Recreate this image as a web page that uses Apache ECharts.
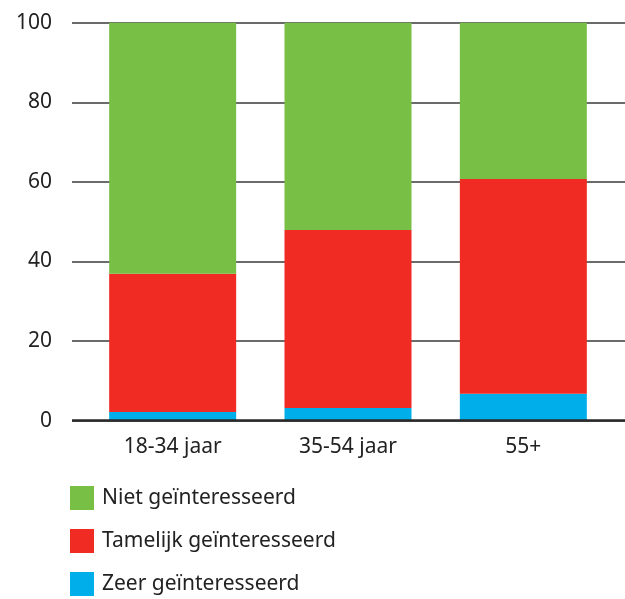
<!DOCTYPE html>
<html>
<head>
<meta charset="utf-8">
<script src="https://cdn.jsdelivr.net/npm/echarts@6/dist/echarts.min.js"></script>
<style>
  html, body { margin: 0; padding: 0; background: #fff; }
  #chart { width: 625px; height: 599px; }
</style>
</head>
<body>
<div id="chart"></div>
<script>
// leeftijdsgroepen
const categories = ['18-34 jaar', '35-54 jaar', '55+']
const yTicks = [0, 20, 40, 60, 80, 100]

// percentages per groep
const zeer = [2.2, 3.2, 6.8]
const tamelijk = [34.7, 44.7, 53.9]
const niet = [63.1, 52.1, 39.3]

const seriesNames = ['Niet geïnteresseerd', 'Tamelijk geïnteresseerd', 'Zeer geïnteresseerd']
const colors = { niet: '#77bf45', tamelijk: '#ef2b24', zeer: '#00aeea' }

const font = 'Noto Sans'
const chart = echarts.init(document.getElementById('chart'))

const option = {
  animation: false,
  textStyle: { fontFamily: font },
  grid: [
    // raster met horizontale lijnen, loopt door tot de rand
    { left: 72, right: 0, top: 22.7, bottom: 178.3 },
    // staven
    { left: 85, right: 14, top: 22.7, bottom: 178.3 }
  ],
  xAxis: [
    { gridIndex: 0, type: 'value', show: false },
    {
      gridIndex: 1,
      type: 'category',
      data: categories,
      axisTick: { show: false },
      axisLine: { show: false },
      axisLabel: { color: '#222', fontSize: 21, margin: 16, fontFamily: font }
    }
  ],
  yAxis: [
    {
      gridIndex: 0,
      type: 'value',
      min: yTicks[0],
      max: yTicks[yTicks.length - 1],
      interval: 20,
      axisLine: { show: false },
      axisTick: { show: false },
      axisLabel: { color: '#222', fontSize: 21, margin: 20, fontFamily: font },
      splitLine: { lineStyle: { color: '#3a3a3a', width: 1.5 } }
    },
    { gridIndex: 1, type: 'value', min: 0, max: 100, show: false }
  ],
  legend: {
    orient: 'vertical',
    left: 70,
    top: 486,
    bottom: 0,
    padding: 0,
    itemWidth: 24,
    itemHeight: 24,
    itemGap: 19,
    icon: 'rect',
    textStyle: { color: '#222', fontSize: 21, fontFamily: font, padding: [0, 0, 0, 3] },
    data: seriesNames
  },
  series: [
    {
      name: seriesNames[2], type: 'bar', stack: 'totaal', data: zeer,
      xAxisIndex: 1, yAxisIndex: 1, barWidth: 127,
      itemStyle: { color: colors.zeer }
    },
    {
      name: seriesNames[1], type: 'bar', stack: 'totaal', data: tamelijk,
      xAxisIndex: 1, yAxisIndex: 1, barWidth: 127,
      itemStyle: { color: colors.tamelijk }
    },
    {
      name: seriesNames[0], type: 'bar', stack: 'totaal', data: niet,
      xAxisIndex: 1, yAxisIndex: 1, barWidth: 127,
      itemStyle: { color: colors.niet }
    },
    // nul-lijn onderaan, iets donkerder
    {
      type: 'line', xAxisIndex: 0, yAxisIndex: 0, data: [],
      markLine: {
        silent: true, symbol: 'none', label: { show: false },
        lineStyle: { color: '#2a2a2a', width: 2.5, type: 'solid' },
        data: [{ yAxis: 0 }]
      }
    }
  ]
}

chart.setOption(option)
</script>
</body>
</html>
